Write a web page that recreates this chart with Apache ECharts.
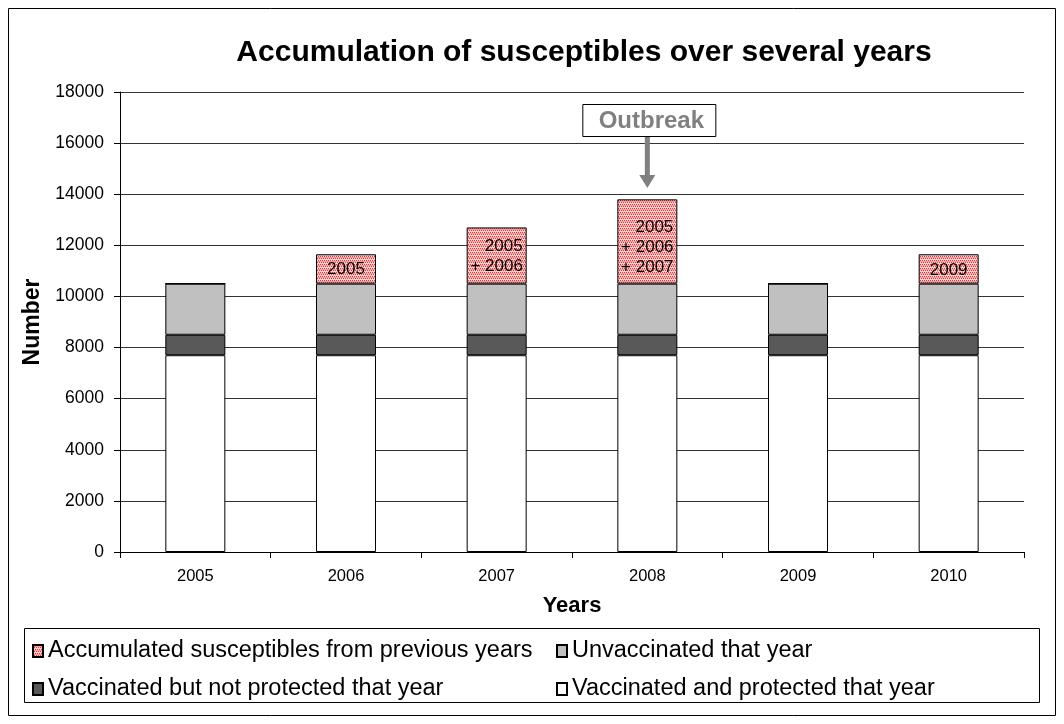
<!DOCTYPE html>
<html><head><meta charset="utf-8">
<script src="https://cdn.jsdelivr.net/npm/echarts@6/dist/echarts.min.js"></script>
<style>html,body{margin:0;padding:0;background:#fff}#c{width:1064px;height:724px}</style>
</head><body><div id="c"></div>
<script>
const years = ['2005','2006','2007','2008','2009','2010'];
const protectedVals = [7700,7700,7700,7700,7700,7700];
const notProtectedVals = [800,800,800,800,800,800];
const unvaccinatedVals = [2000,2000,2000,2000,2000,2000];
const accumulatedVals = [0,1150,2200,3300,0,1150];
const accumulatedLabels = ['','2005','   2005\n+ 2006','   2005\n+ 2006\n+ 2007','','2009'];
const yTicks = {min:0, max:18000, interval:2000};

const names = ['Accumulated susceptibles from previous years','Unvaccinated that year','Vaccinated but not protected that year','Vaccinated and protected that year'];

// dotted red pattern
const pc = document.createElement('canvas'); pc.width = 4; pc.height = 4;
const px = pc.getContext('2d');
px.fillStyle = '#f9d0d0'; px.fillRect(0,0,4,4);
px.fillStyle = '#e23a3a';
px.fillRect(0,0,1,1); px.fillRect(2,0,1,1); px.fillRect(1,2,1,1); px.fillRect(3,2,1,1);
px.fillStyle = '#f39a9a'; px.fillRect(0,1,4,1);
const pattern = {image: pc, repeat: 'repeat'};

const chart = echarts.init(document.getElementById('c'));
const FONT = 'Liberation Sans, Arial, sans-serif';
const border = {borderColor:'#000', borderWidth:1};
const labelOffsets = [0, 0.5, 1, 5.5, 0, 1.5];

function legendAt(name, left, top){
  return {data:[name], left:left, top:top, itemWidth:10, itemHeight:12, icon:'rect', padding:0,
    textStyle:{fontFamily:FONT, fontSize:23.5, color:'#000'}, itemGap:0, selectedMode:false};
}

chart.setOption({
  animation:false,
  title:{text:'Accumulation of susceptibles over several years', left:579, textAlign:'center', top:33,
    textStyle:{fontFamily:FONT, fontSize:30, fontWeight:'bold', color:'#000'}},
  grid:{left:120, right:40, top:92, bottom:172},
  legend:[legendAt(names[0],32,639), legendAt(names[1],556,639), legendAt(names[2],32,677), legendAt(names[3],556,677)],
  xAxis:{type:'category', data:years, name:'Years', nameLocation:'middle', nameGap:43,
    nameTextStyle:{fontFamily:FONT, fontSize:22, fontWeight:'bold', color:'#000'},
    axisLine:{lineStyle:{color:'#000', width:1}}, axisTick:{show:true, length:6, lineStyle:{color:'#000'}},
    axisLabel:{fontFamily:FONT, fontSize:16.5, color:'#000', margin:16}},
  yAxis:{type:'value', min:yTicks.min, max:yTicks.max, interval:yTicks.interval, name:'Number', nameLocation:'middle', nameGap:72,
    nameTextStyle:{fontFamily:FONT, fontSize:23, fontWeight:'bold', color:'#000'},
    axisLine:{show:true, lineStyle:{color:'#000', width:1}}, axisTick:{show:true, length:6, lineStyle:{color:'#000'}},
    axisLabel:{fontFamily:FONT, fontSize:17.5, color:'#000', margin:16, formatter:v=>String(v)},
    splitLine:{lineStyle:{color:'#333', width:1}}},
  series:[
    {name:names[3], type:'bar', stack:'s', barWidth:60, data:protectedVals, itemStyle:Object.assign({color:'#ffffff'},border)},
    {name:names[2], type:'bar', stack:'s', data:notProtectedVals, itemStyle:Object.assign({color:'#595959'},border)},
    {name:names[1], type:'bar', stack:'s', data:unvaccinatedVals, itemStyle:Object.assign({color:'#c0c0c0'},border)},
    {name:names[0], type:'bar', stack:'s', data:accumulatedVals.map((v,i)=>({value:v, label:{formatter:accumulatedLabels[i], offset:[0,labelOffsets[i]]}})),
      itemStyle:Object.assign({color:pattern},border),
      label:{show:true, position:'inside', fontFamily:FONT, fontSize:17, color:'#000', lineHeight:20}}
  ]
});

// legend box, outer border, outbreak annotation
const p = chart.convertToPixel({xAxisIndex:0, yAxisIndex:0}, ['2008', 0]);
const cx = p[0];
chart.setOption({graphic:[
  {type:'rect', shape:{x:8.5,y:8.5,width:1047,height:707}, style:{fill:null, stroke:'#000', lineWidth:1}, silent:true},
  {type:'rect', shape:{x:24.5,y:628.5,width:1015,height:74}, style:{fill:null, stroke:'#000', lineWidth:1}, silent:true},
  {type:'rect', shape:{x:cx-64.5,y:104.5,width:133,height:32}, style:{fill:'#fff', stroke:'#000', lineWidth:1}, silent:true},
  {type:'text', x:cx+4, y:121, style:{text:'Outbreak', fill:'#808080', font:'bold 24px Liberation Sans, Arial', textAlign:'center', textVerticalAlign:'middle'}, silent:true},
  {type:'line', shape:{x1:cx, y1:137, x2:cx, y2:176}, style:{stroke:'#808080', lineWidth:5}, silent:true},
  {type:'polygon', shape:{points:[[cx-8,175],[cx+8,175],[cx,188]]}, style:{fill:'#808080'}, silent:true}
]});
</script>
</body></html>
